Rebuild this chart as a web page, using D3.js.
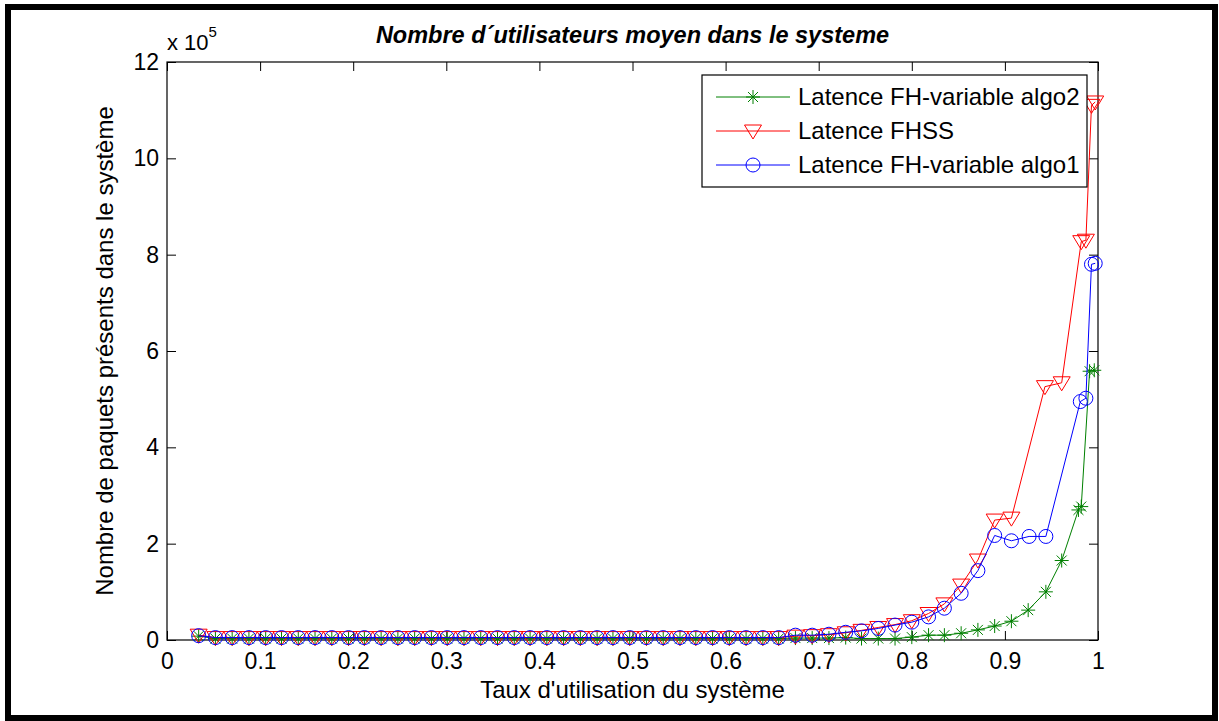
<!DOCTYPE html>
<html>
<head>
<meta charset="utf-8">
<script src="https://cdn.jsdelivr.net/npm/d3@7"></script>
<style>
  body { margin: 0; background: #fff; }
  svg text { font-family: "Liberation Sans", Arial, sans-serif; fill: #000; }
</style>
</head>
<body>
<div id="chart"></div>
<script>
// DATA (y in units of 10^5)

// shared utilisation values for the first points
var rho = [0.034, 0.052, 0.070, 0.088, 0.106, 0.123, 0.141, 0.159, 0.177, 0.195,
  0.212, 0.230, 0.248, 0.266, 0.284, 0.301, 0.319, 0.337, 0.355, 0.373,
  0.390, 0.408, 0.426, 0.444, 0.462, 0.479, 0.497, 0.515, 0.533, 0.551,
  0.568, 0.586, 0.604, 0.622, 0.640, 0.657, 0.675, 0.693, 0.711, 0.729,
  0.746, 0.764, 0.782, 0.800, 0.818, 0.835, 0.853, 0.871];

var algo2Y = [0.08, 0.03, 0.03, 0.03, 0.03, 0.03, 0.03, 0.03, 0.03, 0.03,
  0.03, 0.03, 0.03, 0.03, 0.03, 0.03, 0.03, 0.03, 0.03, 0.03,
  0.03, 0.03, 0.03, 0.03, 0.03, 0.03, 0.03, 0.03, 0.03, 0.03,
  0.03, 0.03, 0.03, 0.03, 0.03, 0.03, 0.04, 0.04, 0.04, 0.05,
  0.03, 0.03, 0.03, 0.06, 0.10, 0.10, 0.14, 0.21];
var algo2TailX = [0.889, 0.907, 0.925, 0.944, 0.961, 0.979, 0.982, 0.991, 0.996];
var algo2TailY = [0.29, 0.39, 0.62, 1.00, 1.65, 2.70, 2.77, 5.58, 5.60];

var fhssY = [0.10, 0.05, 0.05, 0.05, 0.05, 0.05, 0.05, 0.05, 0.05, 0.05,
  0.05, 0.05, 0.05, 0.05, 0.05, 0.05, 0.05, 0.05, 0.05, 0.05,
  0.05, 0.05, 0.05, 0.05, 0.05, 0.05, 0.05, 0.05, 0.05, 0.05,
  0.05, 0.05, 0.05, 0.05, 0.05, 0.05, 0.08, 0.09, 0.11, 0.15,
  0.20, 0.26, 0.32, 0.40, 0.55, 0.75, 1.14, 1.66];
var fhssTailX = [0.889, 0.907, 0.943, 0.961, 0.982, 0.987, 0.993, 0.997];
var fhssTailY = [2.49, 2.53, 5.26, 5.34, 8.27, 8.30, 11.10, 11.17];

var algo1Y = [0.09, 0.05, 0.05, 0.05, 0.05, 0.05, 0.05, 0.05, 0.05, 0.05,
  0.05, 0.05, 0.05, 0.05, 0.05, 0.05, 0.05, 0.05, 0.05, 0.05,
  0.05, 0.05, 0.05, 0.05, 0.05, 0.05, 0.05, 0.05, 0.05, 0.05,
  0.05, 0.05, 0.05, 0.05, 0.05, 0.05, 0.10, 0.10, 0.12, 0.16,
  0.19, 0.24, 0.31, 0.37, 0.48, 0.66, 0.97, 1.44];
var algo1TailX = [0.889, 0.907, 0.926, 0.944, 0.981, 0.987, 0.993, 0.997];
var algo1TailY = [2.17, 2.06, 2.15, 2.15, 4.95, 5.02, 7.80, 7.82];

var xTicks = [0, 0.1, 0.2, 0.3, 0.4, 0.5, 0.6, 0.7, 0.8, 0.9, 1];
var yTicks = [0, 2, 4, 6, 8, 10, 12];

var seriesNames = ["Latence FH-variable algo2", "Latence FHSS", "Latence FH-variable algo1"];
var seriesColors = ["#008000", "#FF0000", "#0000FF"];
var seriesMarkers = ["star", "triangle", "circle"];

function zipSeries(xs, ys) {
  return xs.map(function(x, i) { return {x: x, y: ys[i]}; });
}

var series = [
  {name: seriesNames[0], color: seriesColors[0], marker: seriesMarkers[0],
   pts: zipSeries(rho.concat(algo2TailX), algo2Y.concat(algo2TailY))},
  {name: seriesNames[1], color: seriesColors[1], marker: seriesMarkers[1],
   pts: zipSeries(rho.concat(fhssTailX), fhssY.concat(fhssTailY))},
  {name: seriesNames[2], color: seriesColors[2], marker: seriesMarkers[2],
   pts: zipSeries(rho.concat(algo1TailX), algo1Y.concat(algo1TailY))}
];

// LAYOUT

var width = 1219;
var height = 721;
var plot = {left: 167, top: 62, right: 1098, bottom: 640};

var svg = d3.select("#chart").append("svg")
  .attr("width", width)
  .attr("height", height);

// outer frame
svg.append("rect")
  .attr("x", 8).attr("y", 7)
  .attr("width", 1207).attr("height", 711)
  .attr("fill", "none")
  .attr("stroke", "#000")
  .attr("stroke-width", 6);

var x = d3.scaleLinear().domain([0, 1]).range([plot.left, plot.right]);
var y = d3.scaleLinear().domain([0, 12]).range([plot.bottom, plot.top]);

// AXES (matlab style: ticks inside, box on)
var tickLen = 9;

function styleAxis(g) {
  g.select(".domain").remove();
  g.selectAll(".tick line").attr("stroke", "#000").attr("stroke-width", 1);
  g.selectAll(".tick text").style("font-size", "23px");
}

svg.append("g")
  .attr("transform", "translate(0," + plot.bottom + ")")
  .call(d3.axisBottom(x).tickValues(xTicks).tickSize(-tickLen).tickPadding(13)
    .tickFormat(function(d) { return d3.format("")(d); }))
  .call(styleAxis);

svg.append("g")
  .attr("transform", "translate(0," + plot.top + ")")
  .call(d3.axisTop(x).tickValues(xTicks).tickSize(-tickLen).tickFormat(""))
  .call(styleAxis);

svg.append("g")
  .attr("transform", "translate(" + plot.left + ",0)")
  .call(d3.axisLeft(y).tickValues(yTicks).tickSize(-tickLen).tickPadding(8))
  .call(styleAxis);

svg.append("g")
  .attr("transform", "translate(" + plot.right + ",0)")
  .call(d3.axisRight(y).tickValues(yTicks).tickSize(-tickLen).tickFormat(""))
  .call(styleAxis);

svg.append("rect")
  .attr("x", plot.left).attr("y", plot.top)
  .attr("width", plot.right - plot.left)
  .attr("height", plot.bottom - plot.top)
  .attr("fill", "none")
  .attr("stroke", "#000")
  .attr("stroke-width", 1.2);

// exponent label
var expo = svg.append("text")
  .attr("x", plot.left)
  .attr("y", 50)
  .style("font-size", "22px");
expo.append("tspan").text("x 10");
expo.append("tspan").attr("dy", -13).style("font-size", "15px").text("5");

// MARKERS

function drawMarker(g, type, color) {
  if (type == "circle") {
    g.append("circle").attr("r", 7)
      .attr("fill", "none").attr("stroke", color).attr("stroke-width", 1);
  } else if (type == "triangle") {
    g.append("path").attr("d", "M-8.5,-6L8.5,-6L0,8Z")
      .attr("fill", "none").attr("stroke", color).attr("stroke-width", 1);
  } else {
    g.append("path").attr("d", "M-7,0L7,0M0,-7L0,7M-5,-5L5,5M-5,5L5,-5")
      .attr("fill", "none").attr("stroke", color).attr("stroke-width", 1);
  }
}

var line = d3.line()
  .x(function(d) { return x(d.x); })
  .y(function(d) { return y(d.y); });

var plotArea = svg.append("g");

series.forEach(function(s) {
  var g = plotArea.append("g").attr("class", "series");
  g.append("path")
    .datum(s.pts)
    .attr("d", line)
    .attr("fill", "none")
    .attr("stroke", s.color)
    .attr("stroke-width", 1);
  g.selectAll(".mk")
    .data(s.pts)
    .enter().append("g")
      .attr("class", "mk")
      .attr("transform", function(d) { return "translate(" + x(d.x) + "," + y(d.y) + ")"; })
      .each(function() { drawMarker(d3.select(this), s.marker, s.color); });
});

// LEGEND
var legend = svg.append("g");
legend.append("rect")
  .attr("x", 702).attr("y", 75)
  .attr("width", 385).attr("height", 112)
  .attr("fill", "#fff")
  .attr("stroke", "#000")
  .attr("stroke-width", 1.2);

series.forEach(function(s, i) {
  var ly = 97 + i * 34;
  var row = legend.append("g");
  row.append("line")
    .attr("x1", 716).attr("x2", 790)
    .attr("y1", ly).attr("y2", ly)
    .attr("stroke", s.color).attr("stroke-width", 1);
  drawMarker(row.append("g").attr("transform", "translate(753," + ly + ")"), s.marker, s.color);
  row.append("text")
    .attr("x", 798).attr("y", ly + 8)
    .style("font-size", "24px")
    .text(s.name);
});

// TITLES
svg.append("text")
  .attr("x", (plot.left + plot.right) / 2)
  .attr("y", 43)
  .attr("text-anchor", "middle")
  .style("font-size", "23.5px")
  .style("font-weight", "bold")
  .style("font-style", "italic")
  .text("Nombre d\u00b4utilisateurs moyen dans le systeme");

svg.append("text")
  .attr("x", (plot.left + plot.right) / 2)
  .attr("y", 698)
  .attr("text-anchor", "middle")
  .style("font-size", "24px")
  .text("Taux d'utilisation du syst\u00e8me");

svg.append("text")
  .attr("transform", "translate(113," + ((plot.top + plot.bottom) / 2) + ") rotate(-90)")
  .attr("text-anchor", "middle")
  .style("font-size", "24px")
  .text("Nombre de paquets pr\u00e9sents dans le syst\u00e8me");
</script>
</body>
</html>
